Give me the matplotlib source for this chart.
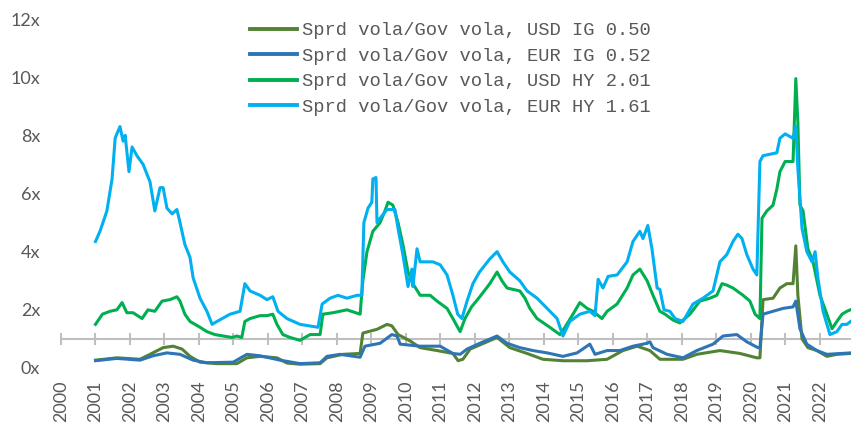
import matplotlib
matplotlib.use("Agg")
import matplotlib.pyplot as plt

# series: (year, ratio)
usd_ig_x = [2001.00, 2001.62, 2002.29, 2002.58, 2002.96, 2003.25, 2003.51, 2003.74, 2004.03, 2004.52,
            2005.10, 2005.39, 2005.77, 2006.26, 2006.55, 2006.93, 2007.51, 2007.71, 2008.17, 2008.67,
            2008.75, 2009.16, 2009.45, 2009.59, 2009.77, 2010.12, 2010.41, 2010.90, 2011.36, 2011.51,
            2011.65, 2011.86, 2012.64, 2013.01, 2013.51, 2013.97, 2014.55, 2015.25, 2015.83, 2016.29,
            2016.70, 2017.07, 2017.36, 2018.03, 2018.43, 2019.10, 2019.68, 2020.17, 2020.26, 2020.35,
            2020.64, 2020.84, 2021.04, 2021.22, 2021.30, 2021.36, 2021.48, 2021.65, 2021.91, 2022.20,
            2022.49, 2022.90]
usd_ig_y = [0.27, 0.35, 0.30, 0.47, 0.70, 0.75, 0.65, 0.40, 0.20, 0.15,
            0.15, 0.35, 0.40, 0.35, 0.17, 0.13, 0.15, 0.35, 0.47, 0.50,
            1.20, 1.33, 1.50, 1.45, 1.15, 0.93, 0.70, 0.60, 0.50, 0.25,
            0.30, 0.65, 1.05, 0.70, 0.50, 0.30, 0.25, 0.25, 0.30, 0.60,
            0.75, 0.60, 0.30, 0.30, 0.47, 0.60, 0.50, 0.35, 0.35, 2.35,
            2.40, 2.75, 2.90, 2.90, 4.20, 2.50, 1.00, 0.70, 0.60, 0.40,
            0.47, 0.50]

eur_ig_x = [2001.00, 2001.62, 2002.29, 2002.67, 2003.07, 2003.45, 2003.83, 2004.23, 2004.99, 2005.39,
            2005.77, 2006.35, 2006.93, 2007.51, 2007.71, 2008.09, 2008.67, 2008.81, 2009.25, 2009.59,
            2009.74, 2009.83, 2010.41, 2010.99, 2011.36, 2011.57, 2011.77, 2012.14, 2012.64, 2012.93,
            2013.30, 2013.68, 2014.09, 2014.55, 2014.96, 2015.33, 2015.48, 2015.83, 2016.20, 2016.58,
            2016.99, 2017.07, 2017.16, 2017.57, 2018.03, 2018.43, 2018.90, 2019.19, 2019.59, 2019.88,
            2020.20, 2020.26, 2020.35, 2020.64, 2020.93, 2021.22, 2021.30, 2021.42, 2021.62, 2021.91,
            2022.20, 2022.90]
eur_ig_y = [0.25, 0.33, 0.27, 0.42, 0.52, 0.47, 0.27, 0.18, 0.20, 0.47,
            0.42, 0.27, 0.15, 0.18, 0.40, 0.47, 0.37, 0.75, 0.85, 1.15,
            1.10, 0.82, 0.75, 0.75, 0.50, 0.47, 0.65, 0.85, 1.10, 0.85,
            0.70, 0.60, 0.52, 0.40, 0.52, 0.82, 0.47, 0.60, 0.60, 0.75,
            0.85, 0.90, 0.70, 0.47, 0.35, 0.60, 0.82, 1.10, 1.15, 0.90,
            0.70, 0.70, 1.85, 1.95, 2.05, 2.10, 2.30, 1.35, 0.82, 0.60,
            0.47, 0.52]

usd_hy_x = [2001.00, 2001.20, 2001.42, 2001.62, 2001.77, 2001.91, 2002.09, 2002.35, 2002.52, 2002.72,
            2002.93, 2003.16, 2003.36, 2003.45, 2003.59, 2003.74, 2004.03, 2004.23, 2004.46, 2004.70,
            2004.96, 2005.10, 2005.24, 2005.33, 2005.48, 2005.77, 2005.97, 2006.14, 2006.26, 2006.43,
            2006.64, 2006.93, 2007.22, 2007.51, 2007.59, 2007.88, 2008.29, 2008.67, 2008.75, 2008.87,
            2009.04, 2009.25, 2009.39, 2009.48, 2009.62, 2009.77, 2009.91, 2010.06, 2010.20, 2010.41,
            2010.70, 2010.90, 2011.19, 2011.36, 2011.57, 2011.71, 2011.90, 2012.14, 2012.43, 2012.64,
            2012.78, 2012.93, 2013.30, 2013.45, 2013.59, 2013.80, 2014.17, 2014.46, 2014.61, 2014.84,
            2015.04, 2015.25, 2015.42, 2015.68, 2015.83, 2016.12, 2016.41, 2016.58, 2016.78, 2016.99,
            2017.16, 2017.36, 2017.51, 2017.74, 2017.94, 2018.23, 2018.52, 2018.81, 2019.01, 2019.16,
            2019.30, 2019.48, 2019.77, 2019.97, 2020.12, 2020.26, 2020.32, 2020.46, 2020.64, 2020.75,
            2020.84, 2020.99, 2021.22, 2021.30, 2021.36, 2021.42, 2021.51, 2021.65, 2021.80, 2022.00,
            2022.20, 2022.35, 2022.49, 2022.64, 2022.78, 2022.90]
usd_hy_y = [1.50, 1.85, 1.95, 2.00, 2.25, 1.90, 1.90, 1.70, 2.00, 1.95,
            2.30, 2.35, 2.45, 2.30, 1.85, 1.60, 1.40, 1.25, 1.15, 1.10,
            1.05, 1.10, 1.05, 1.60, 1.70, 1.80, 1.80, 1.85, 1.50, 1.15,
            1.05, 0.95, 1.15, 1.15, 1.85, 1.90, 2.00, 1.85, 3.00, 4.00,
            4.70, 5.00, 5.40, 5.70, 5.60, 5.00, 4.25, 3.30, 2.90, 2.50,
            2.50, 2.30, 2.05, 1.70, 1.25, 1.70, 2.10, 2.45, 2.90, 3.30,
            3.00, 2.75, 2.65, 2.40, 2.05, 1.70, 1.40, 1.15, 1.40, 1.85,
            2.25, 2.05, 1.95, 1.70, 1.95, 2.20, 2.75, 3.20, 3.40, 3.00,
            2.50, 1.95, 1.85, 1.65, 1.55, 1.85, 2.30, 2.40, 2.50, 2.90,
            2.85, 2.75, 2.50, 2.30, 1.85, 1.70, 5.15, 5.40, 5.60, 6.15,
            6.75, 7.10, 7.10, 9.95, 8.45, 5.60, 5.40, 4.10, 3.65, 2.50,
            1.85, 1.35, 1.60, 1.85, 1.95, 2.01]

eur_hy_x = [2001.00, 2001.13, 2001.33, 2001.48, 2001.57, 2001.62, 2001.71, 2001.80, 2001.86, 2001.97,
            2002.06, 2002.20, 2002.38, 2002.58, 2002.72, 2002.87, 2002.96, 2003.07, 2003.22, 2003.36,
            2003.45, 2003.59, 2003.74, 2003.83, 2004.03, 2004.23, 2004.38, 2004.52, 2004.90, 2005.19,
            2005.33, 2005.48, 2005.77, 2005.97, 2006.14, 2006.29, 2006.55, 2006.93, 2007.20, 2007.45,
            2007.57, 2007.80, 2008.03, 2008.29, 2008.58, 2008.72, 2008.78, 2008.90, 2009.01, 2009.04,
            2009.13, 2009.16, 2009.25, 2009.45, 2009.68, 2009.77, 2009.91, 2010.06, 2010.17, 2010.20,
            2010.32, 2010.41, 2010.61, 2010.78, 2010.99, 2011.19, 2011.36, 2011.50, 2011.62, 2011.77,
            2011.94, 2012.13, 2012.43, 2012.64, 2012.81, 2013.01, 2013.30, 2013.51, 2013.80, 2014.09,
            2014.38, 2014.55, 2014.75, 2015.04, 2015.33, 2015.48, 2015.57, 2015.71, 2015.86, 2016.12,
            2016.41, 2016.58, 2016.78, 2016.87, 2017.01, 2017.13, 2017.28, 2017.36, 2017.48, 2017.65,
            2017.80, 2018.03, 2018.32, 2018.61, 2018.90, 2019.10, 2019.30, 2019.48, 2019.62, 2019.74,
            2019.88, 2020.06, 2020.17, 2020.26, 2020.35, 2020.55, 2020.75, 2020.84, 2020.99, 2021.22,
            2021.30, 2021.36, 2021.48, 2021.62, 2021.77, 2021.86, 2021.94, 2022.09, 2022.29, 2022.49,
            2022.64, 2022.78, 2022.90]
eur_hy_y = [4.35, 4.70, 5.40, 6.50, 7.90, 8.05, 8.30, 7.80, 8.00, 6.75,
            7.60, 7.30, 7.00, 6.40, 5.40, 6.20, 6.20, 5.50, 5.30, 5.45,
            5.00, 4.25, 3.80, 3.10, 2.40, 1.95, 1.50, 1.60, 1.85, 1.95,
            2.90, 2.65, 2.50, 2.35, 2.45, 1.95, 1.70, 1.50, 1.45, 1.40,
            2.20, 2.40, 2.50, 2.40, 2.50, 2.50, 5.00, 5.50, 5.70, 6.50,
            6.55, 5.00, 5.15, 5.45, 5.45, 4.80, 3.90, 2.80, 3.40, 2.80,
            4.10, 3.65, 3.65, 3.65, 3.55, 3.20, 2.50, 1.85, 1.70, 2.30,
            2.90, 3.30, 3.75, 4.00, 3.65, 3.30, 3.00, 2.65, 2.40, 2.05,
            1.70, 1.10, 1.60, 1.85, 1.95, 1.80, 3.05, 2.75, 3.15, 3.20,
            3.65, 4.35, 4.70, 4.45, 4.90, 4.10, 2.75, 2.70, 2.00, 1.95,
            1.70, 1.60, 2.20, 2.40, 2.65, 3.65, 3.90, 4.35, 4.60, 4.45,
            3.90, 3.40, 3.20, 7.10, 7.30, 7.35, 7.40, 7.90, 8.05, 7.90,
            8.30, 6.85, 4.80, 4.00, 3.65, 4.00, 3.10, 1.95, 1.15, 1.25,
            1.50, 1.50, 1.61]

labels = ["Sprd vola/Gov vola, USD IG 0.50",
          "Sprd vola/Gov vola, EUR IG 0.52",
          "Sprd vola/Gov vola, USD HY 2.01",
          "Sprd vola/Gov vola, EUR HY 1.61"]
colors = ["#548235", "#2E75B6", "#00B050", "#00B0F0"]

years = list(range(2000, 2023))
yticks = [0, 2, 4, 6, 8, 10, 12]

plt.rcParams['font.family'] = ['Lato', 'DejaVu Sans']

fig = plt.figure(figsize=(8.51, 4.26), dpi=100)
ax = fig.add_axes([61 / 851, 58 / 426, 790 / 851, 349 / 426])

# horizontal axis crosses at 1x
ax.axhline(1, color="#BFBFBF", lw=1.5, zorder=1)
ax.plot(years, [1] * len(years), ls="none", marker="|", ms=9, mew=1.5,
        color="#BFBFBF", zorder=1, clip_on=False)

series = [(usd_ig_x, usd_ig_y), (eur_ig_x, eur_ig_y),
          (usd_hy_x, usd_hy_y), (eur_hy_x, eur_hy_y)]
for (xs, ys), lab, c in zip(series, labels, colors):
    ax.plot(xs, ys, color=c, lw=2.2, label=lab, zorder=3, solid_joinstyle="round")

ax.set_xlim(2000, 2022.9)
ax.set_ylim(0, 12)
ax.set_xticks(years)
ax.set_xticklabels([str(y) for y in years], rotation=90)
ax.set_yticks(yticks)
ax.set_yticklabels([f"{v}x" for v in yticks])
ax.tick_params(axis="x", length=0, pad=9, labelsize=13, colors="#595959")
ax.tick_params(axis="y", length=0, pad=15, labelsize=13, colors="#595959")
for s in ax.spines.values():
    s.set_visible(False)

leg = fig.legend(loc="upper left", bbox_to_anchor=(250 / 851, (426 - 22) / 426),
                 frameon=False, borderpad=0, borderaxespad=0, handlelength=2.5,
                 handletextpad=0.3, labelspacing=0.45,
                 prop={"family": "Liberation Mono", "size": 13.5})
for t in leg.get_texts():
    t.set_color("#595959")
for h in leg.get_lines():
    h.set_linewidth(2.8)

fig.savefig("out.png", dpi=100)
